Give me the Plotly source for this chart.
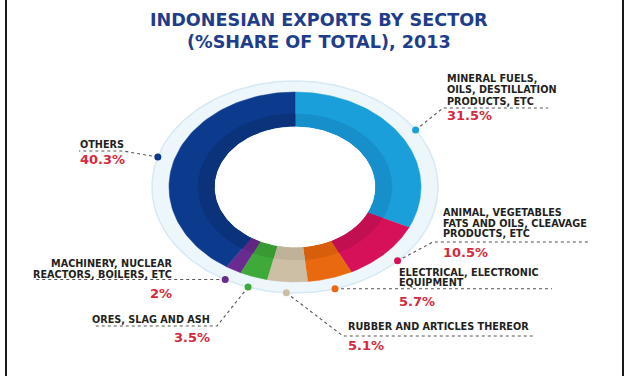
import numpy as np
import plotly.graph_objects as go

# ---------------- data ----------------
sector_lines = [
    ["MINERAL FUELS,", "OILS, DESTILLATION", "PRODUCTS, ETC"],
    ["ANIMAL, VEGETABLES", "FATS AND OILS, CLEAVAGE", "PRODUCTS, ETC"],
    ["ELECTRICAL, ELECTRONIC", "EQUIPMENT"],
    ["RUBBER AND ARTICLES THEREOR"],
    ["ORES, SLAG AND ASH"],
    ["MACHINERY, NUCLEAR", "REACTORS, BOILERS, ETC"],
    ["OTHERS"],
]
shares = [31.5, 10.5, 5.7, 5.1, 3.5, 2.0, 40.3]
share_text = ["31.5%", "10.5%", "5.7%", "5.1%", "3.5%", "2%", "40.3%"]
title_lines = ["INDONESIAN EXPORTS BY SECTOR", "(%SHARE OF TOTAL), 2013"]

# ---------------- styles ----------------
colors = ["#1a9fda", "#d6115a", "#e8690f", "#cdbfa5", "#3fa93a", "#6a2b90", "#0c3a8d"]
band_colors = ["#178fcb", "#c20f51", "#d75f0b", "#c0b298", "#389a33", "#5f2682", "#0a337b"]
W, H = 631, 376
CX, CY = 295, 187
RX, RY = 126, 95          # donut outer radii (px)
HOLE = 0.64               # inner radius fraction
BAND = 0.77               # darker inner band outer fraction
HRX, HRY = 143, 106       # halo radii
TXT = "#231f20"
RED = "#d42a3c"
FONT = "DejaVu Sans"
LBL_SIZE = 9.7

# label placement (layout only): text line y's, percent y, anchor x
label_layout = [
    dict(elbow=(443, 108), end=548, tx=445, ty=[78, 89.5, 101], py=115, anchor="left"),
    dict(elbow=(433, 242), end=590, tx=441, ty=[212.5, 223, 233.5], py=252, anchor="left"),
    dict(elbow=None, end=552, tx=397, ty=[272, 282.5], py=301, anchor="left"),
    dict(elbow=(343, 336), end=535, tx=346, ty=[326], py=345, anchor="left"),
    dict(elbow=(217, 326), end=95, tx=212, ty=[319], py=337, anchor="right"),
    dict(elbow=None, end=33, tx=174, ty=[263.5, 274], py=293, anchor="right"),
    dict(elbow=(123, 151), end=79, tx=78, ty=[144], py=159, anchor="left"),
]


def ell(rx, ry, a0, a1, n=80):
    t = np.radians(np.linspace(a0, a1, n))
    return CX + rx * np.sin(t), CY - ry * np.cos(t)


fig = go.Figure()

# halo ring
hx, hy = ell(HRX, HRY, 0, 360, 200)
fig.add_trace(go.Scatter(x=hx, y=hy, fill="toself", fillcolor="#edf6fb",
                         line=dict(color="#d6e9f4", width=1.5), mode="lines",
                         hoverinfo="skip", showlegend=False))

total = sum(shares)
cum = np.concatenate([[0], np.cumsum(shares)]) / total * 360.0

for i, v in enumerate(shares):
    a0, a1 = cum[i], cum[i + 1]
    ox, oy = ell(RX, RY, a0, a1)
    ix, iy = ell(RX * HOLE, RY * HOLE, a1, a0)
    fig.add_trace(go.Scatter(x=np.concatenate([ox, ix]), y=np.concatenate([oy, iy]),
                             fill="toself", fillcolor=colors[i], mode="lines",
                             line=dict(color=colors[i], width=0.5),
                             hoverinfo="skip", showlegend=False))
    bx, by = ell(RX * BAND, RY * BAND, a0, a1)
    fig.add_trace(go.Scatter(x=np.concatenate([bx, ix]), y=np.concatenate([by, iy]),
                             fill="toself", fillcolor=band_colors[i], mode="lines",
                             line=dict(color=band_colors[i], width=0.5),
                             hoverinfo="skip", showlegend=False))

# hole
wx, wy = ell(RX * HOLE - 0.5, RY * HOLE - 0.5, 0, 360, 200)
fig.add_trace(go.Scatter(x=wx, y=wy, fill="toself", fillcolor="white", mode="lines",
                         line=dict(color="white", width=0), hoverinfo="skip", showlegend=False))

annotations = []
for i, v in enumerate(shares):
    mid = (cum[i] + cum[i + 1]) / 2
    dx = CX + HRX * np.sin(np.radians(mid))
    dy = CY - HRY * np.cos(np.radians(mid))
    L = label_layout[i]
    if L["elbow"] is None:
        lx = [dx, L["end"]]
        ly = [dy, dy]
    else:
        ex, ey = L["elbow"]
        lx = [dx, ex, L["end"]]
        ly = [dy, ey, ey]
    fig.add_trace(go.Scatter(x=lx, y=ly, mode="lines",
                             line=dict(color="#555555", width=1.1, dash="dot"),
                             hoverinfo="skip", showlegend=False))
    fig.add_trace(go.Scatter(x=[dx], y=[dy], mode="markers",
                             marker=dict(color=colors[i], size=7),
                             hoverinfo="skip", showlegend=False))
    for line, yy in zip(sector_lines[i], L["ty"]):
        annotations.append(dict(x=L["tx"], y=yy, xref="x", yref="y", text="<b>" + line + "</b>",
                                showarrow=False, xanchor=L["anchor"], yanchor="middle",
                                font=dict(family=FONT, size=LBL_SIZE, color=TXT)))
    annotations.append(dict(x=L["tx"], y=L["py"], xref="x", yref="y", text="<b>" + share_text[i] + "</b>",
                            showarrow=False, xanchor=L["anchor"], yanchor="middle",
                            font=dict(family=FONT, size=13, color=RED)))

for line, yy in zip(title_lines, [20, 42]):
    annotations.append(dict(x=319, y=yy, xref="x", yref="y", text="<b>" + line + "</b>",
                            showarrow=False, xanchor="center", yanchor="middle",
                            font=dict(family=FONT, size=17.6, color="#203d8b")))

fig.update_layout(
    width=W, height=H, autosize=False,
    margin=dict(l=0, r=0, t=0, b=0),
    paper_bgcolor="white", plot_bgcolor="white",
    hovermode=False,
    xaxis=dict(range=[0, W], visible=False, fixedrange=True),
    yaxis=dict(range=[H, 0], visible=False, fixedrange=True),
    annotations=annotations,
    shapes=[
        dict(type="line", xref="paper", yref="paper", x0=6 / W, x1=6 / W, y0=0, y1=1,
             line=dict(color="#1a1a1a", width=2)),
        dict(type="line", xref="paper", yref="paper", x0=623 / W, x1=623 / W, y0=0, y1=1,
             line=dict(color="#1a1a1a", width=2)),
    ],
)

fig.write_html("out.html", config={"displayModeBar": False},
               post_script="document.body.style.margin='0px';")
